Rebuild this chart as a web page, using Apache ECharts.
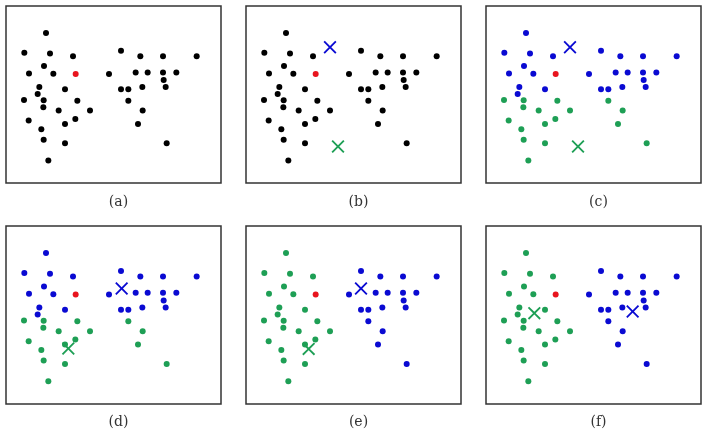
<!DOCTYPE html>
<html lang="en">
<head>
<meta charset="UTF-8">
<title>k-means</title>
<script src="https://cdn.jsdelivr.net/npm/echarts@6/dist/echarts.min.js"></script>
<style>
  html, body { margin: 0; padding: 0; background: #fff; }
  #chart { width: 704px; height: 434px; }
</style>
</head>
<body>
<div id="chart"></div>
<script>
// point coordinates (same points in every panel)
var pts = [
  [120,452],[55,392],[132,390],[201,382],[114,352],[69,330],[142,329],[100,289],[177,282],[95,268],
  [54,250],[113,249],[214,248],[112,228],[158,218],[252,218],[68,188],[208,193],[177,178],[106,162],
  [113,130],[177,120],[127,68],
  [345,398],[403,382],[471,382],[572,382],[309,328],[389,333],[425,333],[471,333],[511,333],
  [473,310],[409,289],[479,289],[345,282],[367,282],
  [367,248],[410,218],[396,178],[482,120]
];
var redPt = [209,328];

// cluster of each point per panel: 0 = black, 1 = blue, 2 = green
var groupsCD = [1,1,1,1,1,1,1,1,1,1, 2,2,2,2,2,2,2,2,2,2, 2,2,2,
  1,1,1,1,1,1,1,1,1, 1,1,1,1,1, 2,2,2,2];
var groupsEF = [2,2,2,2,2,2,2,2,2,2, 2,2,2,2,2,2,2,2,2,2, 2,2,2,
  1,1,1,1,1,1,1,1,1, 1,1,1,1,1, 1,1,1,1];
var groupsAB = pts.map(function () { return 0; });

var panels = [
  {label: '(a)', groups: groupsAB, blueC: null, greenC: null},
  {label: '(b)', groups: groupsAB, blueC: [252,409], greenC: [276,110]},
  {label: '(c)', groups: groupsCD, blueC: [252,409], greenC: [276,110]},
  {label: '(d)', groups: groupsCD, blueC: [347,346], greenC: [187,166]},
  {label: '(e)', groups: groupsEF, blueC: [345,346], greenC: [188,165]},
  {label: '(f)', groups: groupsEF, blueC: [440,277], greenC: [145,272]}
];

var colors = ['#000000', '#0a0ad2', '#1e9f55'];
var red = '#e8141e';
var cross = 'path://M0,1L1,0L5,4L9,0L10,1L6,5L10,9L9,10L5,6L1,10L0,9L4,5Z';

var lefts = [6, 246, 486];
var tops = [6, 226];
var grid = [], xAxis = [], yAxis = [], series = [], title = [];

panels.forEach(function (p, i) {
  var col = i % 3, row = Math.floor(i / 3);
  grid.push({left: lefts[col], top: tops[row], width: 215, height: row ? 178 : 177,
    show: true, borderColor: '#333', borderWidth: 1.5, backgroundColor: '#fff'});
  xAxis.push({gridIndex: i, min: 0, max: 645, show: false});
  yAxis.push({gridIndex: i, min: 0, max: 533, show: false});
  title.push({text: p.label, left: lefts[col] + 107.5, top: row ? 410 : 190, textAlign: 'center',
    textStyle: {fontFamily: 'DejaVu Serif', fontWeight: 'normal', fontSize: 14, color: '#333'}});
  [0, 1, 2].forEach(function (g) {
    var d = pts.filter(function (pt, k) { return p.groups[k] === g; });
    if (!d.length) return;
    series.push({type: 'scatter', xAxisIndex: i, yAxisIndex: i, symbolSize: 6,
      itemStyle: {color: colors[g], opacity: 1}, silent: true, data: d});
  });
  series.push({type: 'scatter', xAxisIndex: i, yAxisIndex: i, symbolSize: 6,
    itemStyle: {color: red, opacity: 1}, silent: true, data: [redPt]});
  if (p.blueC) {
    series.push({type: 'scatter', xAxisIndex: i, yAxisIndex: i, symbol: cross, symbolSize: 13,
      itemStyle: {color: colors[1], opacity: 1}, silent: true, z: 5, data: [p.blueC]});
    series.push({type: 'scatter', xAxisIndex: i, yAxisIndex: i, symbol: cross, symbolSize: 13,
      itemStyle: {color: colors[2], opacity: 1}, silent: true, z: 5, data: [p.greenC]});
  }
});

var chart = echarts.init(document.getElementById('chart'));
chart.setOption({
  animation: false,
  backgroundColor: '#fff',
  title: title,
  grid: grid,
  xAxis: xAxis,
  yAxis: yAxis,
  series: series
});
</script>
</body>
</html>
